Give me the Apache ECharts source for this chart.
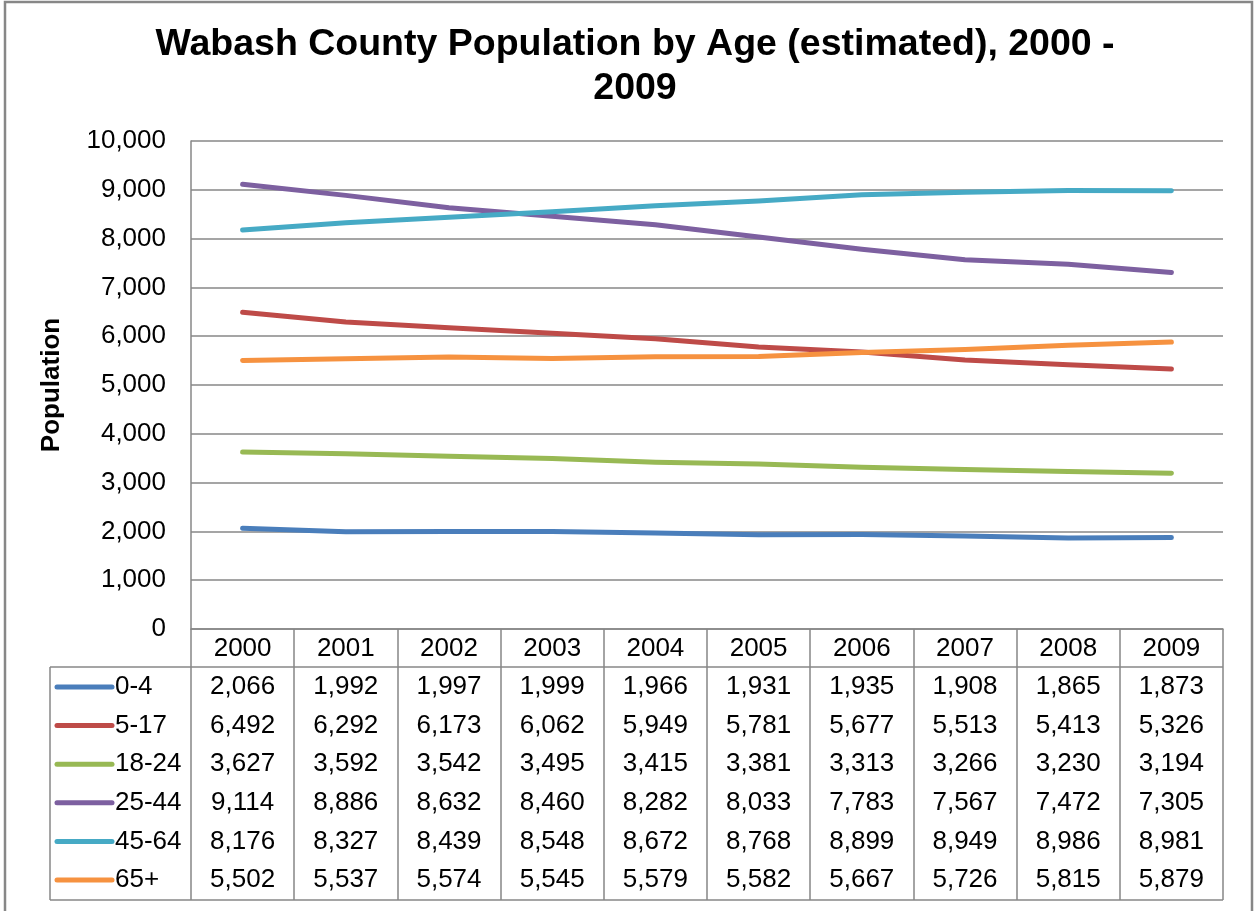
<!DOCTYPE html>
<html>
<head>
<meta charset="utf-8">
<script src="https://cdn.jsdelivr.net/npm/echarts@6/dist/echarts.min.js"></script>
<style>
  html, body { margin: 0; padding: 0; background: #ffffff; }
  #chart { width: 1254px; height: 911px; }
</style>
</head>
<body>
<div id="chart"></div>
<script>
// Wabash County population estimates by age group, 2000-2009
const years = ['2000', '2001', '2002', '2003', '2004', '2005', '2006', '2007', '2008', '2009'];
const ageGroups = ['0-4', '5-17', '18-24', '25-44', '45-64', '65+'];
const age0to4   = [2066, 1992, 1997, 1999, 1966, 1931, 1935, 1908, 1865, 1873];
const age5to17  = [6492, 6292, 6173, 6062, 5949, 5781, 5677, 5513, 5413, 5326];
const age18to24 = [3627, 3592, 3542, 3495, 3415, 3381, 3313, 3266, 3230, 3194];
const age25to44 = [9114, 8886, 8632, 8460, 8282, 8033, 7783, 7567, 7472, 7305];
const age45to64 = [8176, 8327, 8439, 8548, 8672, 8768, 8899, 8949, 8986, 8981];
const age65plus = [5502, 5537, 5574, 5545, 5579, 5582, 5667, 5726, 5815, 5879];
const yTicks = [0, 1000, 2000, 3000, 4000, 5000, 6000, 7000, 8000, 9000, 10000];

const seriesValues = [age0to4, age5to17, age18to24, age25to44, age45to64, age65plus];
const lineColors = ['#4a7ebb', '#be4b48', '#98b954', '#7d60a0', '#46aac5', '#f69240'];

const FONT = '"Liberation Sans", Arial, sans-serif';
const GRAY = '#878787';
const TEXT_SIZE = 26;

// plot and data-table layout (pixels)
const plot = { left: 191, top: 141, width: 1032, height: 488 };
const table = { left: 50, headerBottom: 667, firstRow: 687, rowStep: 38.6, bottom: 900 };
const plotRight = plot.left + plot.width;
const axisY = plot.top + plot.height;

const fmt = v => v.toLocaleString('en-US');

const chart = echarts.init(document.getElementById('chart'), null, { renderer: 'canvas' });

chart.setOption({
  backgroundColor: '#ffffff',
  animation: false,
  title: {
    text: 'Wabash County Population by Age (estimated), 2000 -\n2009',
    left: 630,
    top: 18,
    textAlign: 'center',
    textStyle: { fontFamily: FONT, fontSize: 37.5, fontWeight: 'bold', color: '#000', lineHeight: 44 }
  },
  grid: { left: plot.left, top: plot.top, width: plot.width, height: plot.height, containLabel: false },
  xAxis: {
    type: 'category',
    data: years,
    boundaryGap: true,
    axisLine: { show: true, lineStyle: { color: GRAY, width: 1.5 } },
    // ticks run down through the data table as its column dividers
    axisTick: { show: true, inside: false, length: table.bottom - axisY, lineStyle: { color: GRAY, width: 1.5 } },
    axisLabel: { fontFamily: FONT, fontSize: TEXT_SIZE, color: '#000', margin: 7 },
    splitLine: { show: false }
  },
  yAxis: {
    type: 'value',
    min: yTicks[0],
    max: yTicks[yTicks.length - 1],
    interval: yTicks[1] - yTicks[0],
    name: 'Population',
    nameLocation: 'middle',
    nameRotate: 90,
    nameGap: 126,
    nameTextStyle: { fontFamily: FONT, fontSize: TEXT_SIZE, fontWeight: 'bold', color: '#000' },
    axisLine: { show: true, lineStyle: { color: GRAY, width: 1.5 } },
    axisTick: { show: false },
    axisLabel: { fontFamily: FONT, fontSize: TEXT_SIZE, color: '#000', margin: 25, formatter: v => fmt(v) },
    splitLine: { show: true, lineStyle: { color: GRAY, width: 1.5 } }
  },
  series: ageGroups.map((name, i) => ({
    name,
    type: 'line',
    data: seriesValues[i],
    showSymbol: false,
    symbol: 'none',
    smooth: false,
    lineStyle: { color: lineColors[i], width: 5, cap: 'round', join: 'round' },
    itemStyle: { color: lineColors[i] },
    z: 3
  }))
});

// data table below the plot: legend keys, group names and values
const graphics = [];

// outer chart frame
graphics.push({
  type: 'rect', silent: true, z: 0,
  shape: { x: 5, y: 2, width: 1247, height: 960 },
  style: { fill: null, stroke: GRAY, lineWidth: 2.5 }
});

// table borders
const hLine = (x1, x2, y) => ({
  type: 'line', silent: true, z: 1,
  shape: { x1, y1: y, x2, y2: y },
  style: { stroke: GRAY, lineWidth: 1.5 }
});
graphics.push(hLine(table.left, plotRight, table.headerBottom));
graphics.push(hLine(table.left, plotRight, table.bottom));
graphics.push({
  type: 'line', silent: true, z: 1,
  shape: { x1: table.left, y1: table.headerBottom, x2: table.left, y2: table.bottom },
  style: { stroke: GRAY, lineWidth: 1.5 }
});

ageGroups.forEach((name, r) => {
  const y = table.firstRow + r * table.rowStep;
  graphics.push({
    type: 'line', silent: true, z: 2,
    shape: { x1: 57, y1: y, x2: 112, y2: y },
    style: { stroke: lineColors[r], lineWidth: 5, lineCap: 'round' }
  });
  graphics.push({
    type: 'text', silent: true, z: 2,
    x: 115, y,
    style: { text: name, fontFamily: FONT, fontSize: TEXT_SIZE, fill: '#000', align: 'left', verticalAlign: 'middle' }
  });
  years.forEach((yr, c) => {
    const x = chart.convertToPixel({ xAxisIndex: 0 }, yr);
    graphics.push({
      type: 'text', silent: true, z: 2,
      x, y,
      style: { text: fmt(seriesValues[r][c]), fontFamily: FONT, fontSize: TEXT_SIZE, fill: '#000', align: 'center', verticalAlign: 'middle' }
    });
  });
});

chart.setOption({ graphic: graphics });
</script>
</body>
</html>
